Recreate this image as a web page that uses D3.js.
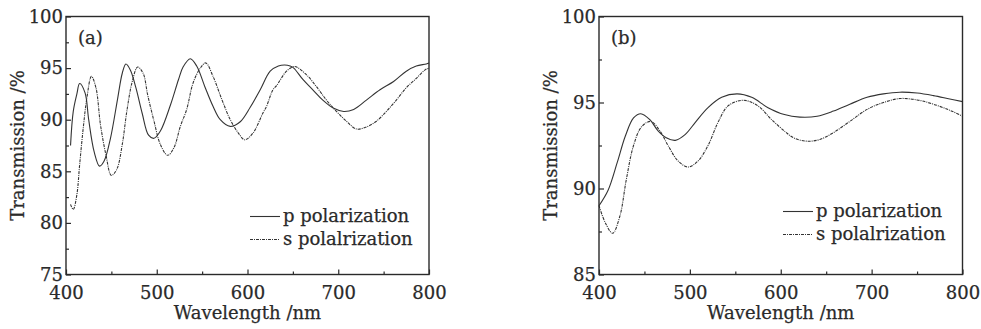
<!DOCTYPE html>
<html>
<head>
<meta charset="utf-8">
<script src="https://cdn.jsdelivr.net/npm/d3@7"></script>
<style>
  body { margin: 0; background: #fff; }
  svg { display: block; font-family: "DejaVu Serif", serif; }
  text { stroke: #2a2a2a; stroke-width: 0.25px; }
</style>
</head>
<body>
<svg></svg>
<script>
var width = 981,
    height = 329;
var svg = d3.select("svg")
    .attr("width", width)
    .attr("height", height);

// (a) p polarization
var aPWave = [405, 408, 412, 415, 421, 425, 431, 437, 442, 449, 457, 462, 466, 471, 477, 484, 491, 497, 504, 515,
    524, 529, 537, 544, 553, 562, 570, 581, 592, 603, 614, 625, 634, 641, 647, 651, 661, 672, 683, 695,
    706, 717, 731, 746, 761, 775, 786, 797, 800];
var aPTrans = [87.5, 90.8, 92.5, 93.5, 92.6, 90.0, 86.9, 85.5, 86.0, 88.2, 92.1, 94.5, 95.4, 94.8, 93.1, 90.6, 88.5, 88.2, 88.9, 91.4,
    93.9, 95.1, 95.9, 95.2, 93.2, 91.3, 90.0, 89.35, 89.8, 91.2, 92.9, 94.7, 95.2, 95.3, 95.2, 95.0, 93.9, 92.9, 91.9, 91.1,
    90.8, 91.0, 91.9, 92.9, 93.7, 94.7, 95.2, 95.4, 95.5];
// (a) s polarization
var aSWave = [405, 408, 412, 415, 419, 423, 428, 433, 438, 444, 450, 456, 462, 467, 473, 479, 485, 490, 497, 504,
    512, 519, 526, 533, 540, 548, 554, 562, 572, 581, 590, 597, 606, 617, 621, 628, 632, 643, 652, 665,
    676, 687, 698, 709, 720, 731, 742, 753, 764, 775, 786, 796, 800];
var aSTrans = [81.8, 81.3, 82.75, 85.6, 89.2, 92.1, 94.2, 93.1, 89.5, 86.6, 84.6, 85.2, 87.6, 90.8, 93.7, 95.1, 94.5, 92.4, 89.85, 87.6,
    86.55, 87.3, 89.35, 91.0, 93.55, 95.0, 95.5, 94.2, 91.9, 90.0, 88.7, 88.05, 88.7, 90.65, 91.3, 92.9, 93.3, 94.7, 95.15, 94.35,
    93.2, 91.9, 90.8, 89.85, 89.1, 89.3, 89.85, 90.8, 91.9, 93.1, 94.0, 94.85, 95.0];

// (b) p polarization
var bPWave = [400, 410, 420, 429, 438, 446, 456, 465, 474, 484, 495, 506, 520, 535, 552, 568, 586, 604, 621, 640,
    658, 676, 695, 713, 731, 750, 768, 786, 800];
var bPTrans = [89.0, 89.9, 91.5, 93.05, 94.1, 94.35, 94.0, 93.35, 92.95, 92.8, 93.15, 93.85, 94.7, 95.3, 95.5, 95.3, 94.7, 94.3, 94.15, 94.2,
    94.5, 94.9, 95.3, 95.5, 95.6, 95.55, 95.4, 95.2, 95.05];
// (b) s polarization
var bSWave = [400, 407, 415, 423, 430, 438, 447, 457, 467, 476, 487, 498, 509, 520, 531, 542, 559, 575, 590, 605,
    614, 629, 643, 658, 676, 695, 713, 731, 750, 768, 786, 800];
var bSTrans = [89.0, 88.0, 87.4, 88.4, 90.5, 92.5, 93.6, 93.9, 93.35, 92.5, 91.6, 91.25, 91.6, 92.5, 93.85, 94.8, 95.13, 94.8, 94.0, 93.3,
    92.95, 92.75, 92.85, 93.25, 93.9, 94.6, 95.0, 95.23, 95.15, 94.9, 94.55, 94.2];

var xTicks = [400, 500, 600, 700, 800],
    xMinor = [450, 550, 650, 750];
var aYTicks = [75, 80, 85, 90, 95, 100],
    aYMinor = [77.5, 82.5, 87.5, 92.5, 97.5];
var bYTicks = [85, 90, 95, 100],
    bYMinor = [87.5, 92.5, 97.5];
var legendLabels = ["p polarization", "s polalrization"];

var ink = "#2a2a2a";

drawPanel({
    left: 66, right: 429, top: 16.5, bottom: 274.5,
    yDomain: [75, 100], yTicks: aYTicks, yMinor: aYMinor,
    tag: "(a)",
    p: d3.zip(aPWave, aPTrans), s: d3.zip(aSWave, aSTrans),
    legendX: 250, legendY: 216.5
});
drawPanel({
    left: 599, right: 962.5, top: 16.5, bottom: 274.5,
    yDomain: [85, 100], yTicks: bYTicks, yMinor: bYMinor,
    tag: "(b)",
    p: d3.zip(bPWave, bPTrans), s: d3.zip(bSWave, bSTrans),
    legendX: 783, legendY: 211.5
});

function drawPanel(c) {
    var x = d3.scaleLinear().domain([400, 800]).range([c.left, c.right]);
    var y = d3.scaleLinear().domain(c.yDomain).range([c.bottom, c.top]);
    var g = svg.append("g");

    var line = d3.line()
        .x(d => x(d[0]))
        .y(d => y(d[1]))
        .curve(d3.curveCatmullRom);

    g.append("path")
        .attr("d", line(c.p))
        .attr("fill", "none")
        .attr("stroke", "#333")
        .attr("stroke-width", 1.1);
    g.append("path")
        .attr("d", line(c.s))
        .attr("fill", "none")
        .attr("stroke", "#333")
        .attr("stroke-width", 1.1)
        .attr("stroke-dasharray", "3,1,1,1");

    // axes with inward ticks
    g.append("g")
        .attr("transform", "translate(0," + c.bottom + ")")
        .call(d3.axisBottom(x).tickValues(xTicks).tickSizeInner(-5).tickSizeOuter(0).tickPadding(12).tickFormat(d3.format("d")));
    g.append("g")
        .attr("transform", "translate(0," + c.bottom + ")")
        .call(d3.axisBottom(x).tickValues(xMinor).tickSizeInner(-3).tickSizeOuter(0).tickFormat(""));
    g.append("g")
        .attr("transform", "translate(" + c.left + ",0)")
        .call(d3.axisLeft(y).tickValues(c.yTicks).tickSizeInner(-5).tickSizeOuter(0).tickPadding(3).tickFormat(d3.format("d")));
    g.append("g")
        .attr("transform", "translate(" + c.left + ",0)")
        .call(d3.axisLeft(y).tickValues(c.yMinor).tickSizeInner(-3).tickSizeOuter(0).tickFormat(""));

    g.selectAll(".domain").remove();
    g.selectAll(".tick line").attr("stroke", ink).attr("stroke-width", 1.2);
    g.selectAll(".tick text")
        .attr("fill", ink)
        .style("font-family", "DejaVu Serif, serif")
        .style("font-size", "18px");

    g.append("rect")
        .attr("x", c.left)
        .attr("y", c.top)
        .attr("width", c.right - c.left)
        .attr("height", c.bottom - c.top)
        .attr("fill", "none")
        .attr("stroke", ink)
        .attr("stroke-width", 1.4);

    g.append("text")
        .attr("x", (c.left + c.right) / 2)
        .attr("y", 319)
        .attr("text-anchor", "middle")
        .attr("fill", ink)
        .style("font-size", "18px")
        .text("Wavelength /nm");

    g.append("text")
        .attr("transform", "translate(" + (c.left - 42) + "," + ((c.top + c.bottom) / 2) + ") rotate(-90)")
        .attr("text-anchor", "middle")
        .attr("fill", ink)
        .style("font-size", "18px")
        .text("Transmission /%");

    g.append("text")
        .attr("x", c.left + 12)
        .attr("y", c.top + 27)
        .attr("fill", ink)
        .style("font-size", "18px")
        .text(c.tag);

    // legend
    var styles = [null, "3,1,1,1"];
    legendLabels.forEach((label, i) => {
        var ly = c.legendY + i * 23;
        g.append("line")
            .attr("x1", c.legendX)
            .attr("x2", c.legendX + 30)
            .attr("y1", ly)
            .attr("y2", ly)
            .attr("stroke", "#333")
            .attr("stroke-width", 1.1)
            .attr("stroke-dasharray", styles[i]);
        g.append("text")
            .attr("x", c.legendX + 33)
            .attr("y", ly)
            .attr("dy", "0.3em")
            .attr("fill", ink)
            .style("font-size", "18px")
            .text(label);
    });
}
</script>
</body>
</html>
